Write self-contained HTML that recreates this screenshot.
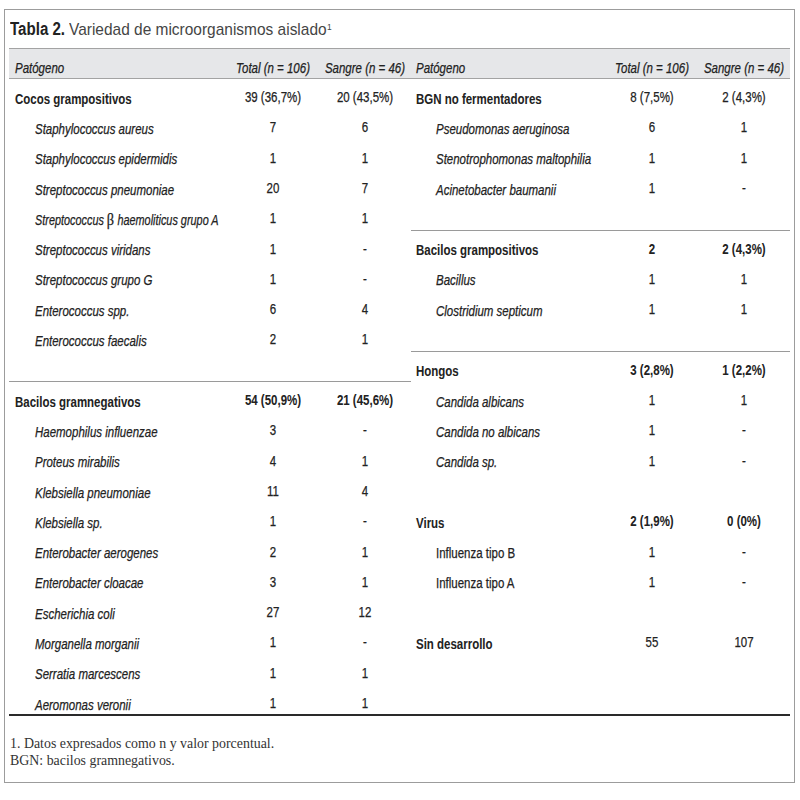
<!DOCTYPE html>
<html><head><meta charset="utf-8"><style>
html,body{margin:0;padding:0;background:#fff;}
body{width:800px;height:800px;position:relative;overflow:hidden;font-family:"Liberation Sans",sans-serif;color:#222;}
.box{position:absolute;left:4px;top:9px;width:789px;height:772px;border:1px solid #9c9c9c;}
.band{position:absolute;left:9px;top:48px;width:781px;height:29px;background:#e6e7e9;border-top:1px solid #a3a3a3;border-bottom:1px solid #a3a3a3;}
.sep{position:absolute;height:1px;background:#9a9a9a;}
.thick{position:absolute;left:9px;top:714px;width:781px;height:2px;background:#2a2a2a;}
.t{position:absolute;white-space:nowrap;font-size:14px;line-height:20px;-webkit-text-stroke:0.25px #222;}
.t.l{transform:scaleX(0.82);transform-origin:0 0;}
.t.c{width:300px;text-align:center;transform:scaleX(0.82);transform-origin:150px 0;}
.i{font-style:italic;}
.b{font-weight:bold;-webkit-text-stroke:0.05px #222;}
.beta{font-family:"Liberation Serif",serif;font-style:normal;font-size:16px;display:inline-block;transform:scaleX(1.15);margin:0 1px 0 0.5px;}
.title{position:absolute;left:10px;top:15.6px;white-space:nowrap;line-height:26px;}
.tb{font-weight:bold;font-size:18px;display:inline-block;transform:scaleX(0.838);transform-origin:0 0;}
.tv{position:absolute;left:69px;top:18.1px;font-size:16.6px;line-height:24px;white-space:nowrap;transform:scaleX(0.932);transform-origin:0 0;color:#454545;}
.fn{position:absolute;left:10px;font-family:"Liberation Serif",serif;font-size:14px;line-height:18px;white-space:nowrap;color:#333;transform:scaleX(0.992);transform-origin:0 0;}
</style></head><body>
<div class="box"></div>
<div class="band"></div>
<div class="sep" style="left:9px;top:381px;width:402px"></div>
<div class="sep" style="left:411px;top:230px;width:379px"></div>
<div class="sep" style="left:411px;top:351px;width:379px"></div>
<div class="thick"></div>
<div class="title"><span class="tb">Tabla 2.</span></div>
<div class="tv">Variedad de microorganismos aislado<sup style="font-size:9px;vertical-align:5px;line-height:0;margin-left:0.5px">1</sup></div>
<div class='t b l' style='left:15px;top:88.60px'>Cocos grampositivos</div>
<div class='t n c' style='left:123px;top:87.00px'>39 (36,7%)</div>
<div class='t n c' style='left:215px;top:87.00px'>20 (43,5%)</div>
<div class='t i l' style='left:35px;top:118.90px'>Staphylococcus aureus</div>
<div class='t n c' style='left:123px;top:117.30px'>7</div>
<div class='t n c' style='left:215px;top:117.30px'>6</div>
<div class='t i l' style='left:35px;top:149.20px'>Staphylococcus epidermidis</div>
<div class='t n c' style='left:123px;top:147.60px'>1</div>
<div class='t n c' style='left:215px;top:147.60px'>1</div>
<div class='t i l' style='left:35px;top:179.50px'>Streptococcus pneumoniae</div>
<div class='t n c' style='left:123px;top:177.90px'>20</div>
<div class='t n c' style='left:215px;top:177.90px'>7</div>
<div class='t i l' style='left:35px;top:209.80px'><span style='display:inline-block;transform:scaleX(0.947);transform-origin:0 0'>Streptococcus <span class='beta'>β</span> haemoliticus grupo A</span></div>
<div class='t n c' style='left:123px;top:208.20px'>1</div>
<div class='t n c' style='left:215px;top:208.20px'>1</div>
<div class='t i l' style='left:35px;top:240.10px'>Streptococcus viridans</div>
<div class='t n c' style='left:123px;top:238.50px'>1</div>
<div class='t n c' style='left:215px;top:238.50px'>-</div>
<div class='t i l' style='left:35px;top:270.40px'>Streptococcus grupo G</div>
<div class='t n c' style='left:123px;top:268.80px'>1</div>
<div class='t n c' style='left:215px;top:268.80px'>-</div>
<div class='t i l' style='left:35px;top:300.70px'>Enterococcus spp.</div>
<div class='t n c' style='left:123px;top:299.10px'>6</div>
<div class='t n c' style='left:215px;top:299.10px'>4</div>
<div class='t i l' style='left:35px;top:331.00px'>Enterococcus faecalis</div>
<div class='t n c' style='left:123px;top:329.40px'>2</div>
<div class='t n c' style='left:215px;top:329.40px'>1</div>
<div class='t b l' style='left:15px;top:391.60px'>Bacilos gramnegativos</div>
<div class='t b c' style='left:123px;top:390.00px'>54 (50,9%)</div>
<div class='t b c' style='left:215px;top:390.00px'>21 (45,6%)</div>
<div class='t i l' style='left:35px;top:421.90px'>Haemophilus influenzae</div>
<div class='t n c' style='left:123px;top:420.30px'>3</div>
<div class='t n c' style='left:215px;top:420.30px'>-</div>
<div class='t i l' style='left:35px;top:452.20px'>Proteus mirabilis</div>
<div class='t n c' style='left:123px;top:450.60px'>4</div>
<div class='t n c' style='left:215px;top:450.60px'>1</div>
<div class='t i l' style='left:35px;top:482.50px'>Klebsiella pneumoniae</div>
<div class='t n c' style='left:123px;top:480.90px'>11</div>
<div class='t n c' style='left:215px;top:480.90px'>4</div>
<div class='t i l' style='left:35px;top:512.80px'>Klebsiella sp.</div>
<div class='t n c' style='left:123px;top:511.20px'>1</div>
<div class='t n c' style='left:215px;top:511.20px'>-</div>
<div class='t i l' style='left:35px;top:543.10px'>Enterobacter aerogenes</div>
<div class='t n c' style='left:123px;top:541.50px'>2</div>
<div class='t n c' style='left:215px;top:541.50px'>1</div>
<div class='t i l' style='left:35px;top:573.40px'>Enterobacter cloacae</div>
<div class='t n c' style='left:123px;top:571.80px'>3</div>
<div class='t n c' style='left:215px;top:571.80px'>1</div>
<div class='t i l' style='left:35px;top:603.70px'>Escherichia coli</div>
<div class='t n c' style='left:123px;top:602.10px'>27</div>
<div class='t n c' style='left:215px;top:602.10px'>12</div>
<div class='t i l' style='left:35px;top:634.00px'>Morganella morganii</div>
<div class='t n c' style='left:123px;top:632.40px'>1</div>
<div class='t n c' style='left:215px;top:632.40px'>-</div>
<div class='t i l' style='left:35px;top:664.30px'>Serratia marcescens</div>
<div class='t n c' style='left:123px;top:662.70px'>1</div>
<div class='t n c' style='left:215px;top:662.70px'>1</div>
<div class='t i l' style='left:35px;top:694.60px'>Aeromonas veronii</div>
<div class='t n c' style='left:123px;top:693.00px'>1</div>
<div class='t n c' style='left:215px;top:693.00px'>1</div>
<div class='t b l' style='left:416px;top:88.60px'>BGN no fermentadores</div>
<div class='t n c' style='left:502px;top:87.00px'>8 (7,5%)</div>
<div class='t n c' style='left:594px;top:87.00px'>2 (4,3%)</div>
<div class='t i l' style='left:436px;top:118.90px'>Pseudomonas aeruginosa</div>
<div class='t n c' style='left:502px;top:117.30px'>6</div>
<div class='t n c' style='left:594px;top:117.30px'>1</div>
<div class='t i l' style='left:436px;top:149.20px'>Stenotrophomonas maltophilia</div>
<div class='t n c' style='left:502px;top:147.60px'>1</div>
<div class='t n c' style='left:594px;top:147.60px'>1</div>
<div class='t i l' style='left:436px;top:179.50px'>Acinetobacter baumanii</div>
<div class='t n c' style='left:502px;top:177.90px'>1</div>
<div class='t n c' style='left:594px;top:177.90px'>-</div>
<div class='t b l' style='left:416px;top:240.10px'>Bacilos grampositivos</div>
<div class='t b c' style='left:502px;top:238.50px'>2</div>
<div class='t b c' style='left:594px;top:238.50px'>2 (4,3%)</div>
<div class='t i l' style='left:436px;top:270.40px'>Bacillus</div>
<div class='t n c' style='left:502px;top:268.80px'>1</div>
<div class='t n c' style='left:594px;top:268.80px'>1</div>
<div class='t i l' style='left:436px;top:300.70px'>Clostridium septicum</div>
<div class='t n c' style='left:502px;top:299.10px'>1</div>
<div class='t n c' style='left:594px;top:299.10px'>1</div>
<div class='t b l' style='left:416px;top:361.30px'>Hongos</div>
<div class='t b c' style='left:502px;top:359.70px'>3 (2,8%)</div>
<div class='t b c' style='left:594px;top:359.70px'>1 (2,2%)</div>
<div class='t i l' style='left:436px;top:391.60px'>Candida albicans</div>
<div class='t n c' style='left:502px;top:390.00px'>1</div>
<div class='t n c' style='left:594px;top:390.00px'>1</div>
<div class='t i l' style='left:436px;top:421.90px'>Candida no albicans</div>
<div class='t n c' style='left:502px;top:420.30px'>1</div>
<div class='t n c' style='left:594px;top:420.30px'>-</div>
<div class='t i l' style='left:436px;top:452.20px'>Candida sp.</div>
<div class='t n c' style='left:502px;top:450.60px'>1</div>
<div class='t n c' style='left:594px;top:450.60px'>-</div>
<div class='t b l' style='left:416px;top:512.80px'>Virus</div>
<div class='t b c' style='left:502px;top:511.20px'>2 (1,9%)</div>
<div class='t b c' style='left:594px;top:511.20px'>0 (0%)</div>
<div class='t n l' style='left:436px;top:543.10px'>Influenza tipo B</div>
<div class='t n c' style='left:502px;top:541.50px'>1</div>
<div class='t n c' style='left:594px;top:541.50px'>-</div>
<div class='t n l' style='left:436px;top:573.40px'>Influenza tipo A</div>
<div class='t n c' style='left:502px;top:571.80px'>1</div>
<div class='t n c' style='left:594px;top:571.80px'>-</div>
<div class='t b l' style='left:416px;top:634.00px'>Sin desarrollo</div>
<div class='t n c' style='left:502px;top:632.40px'>55</div>
<div class='t n c' style='left:594px;top:632.40px'>107</div>
<div class='t i l' style='left:15px;top:57.50px'>Patógeno</div>
<div class='t i c' style='left:123px;top:57.50px'>Total (n = 106)</div>
<div class='t i c' style='left:215px;top:57.50px'>Sangre (n = 46)</div>
<div class='t i l' style='left:416px;top:57.50px'>Patógeno</div>
<div class='t i c' style='left:502px;top:57.50px'>Total (n = 106)</div>
<div class='t i c' style='left:594px;top:57.50px'>Sangre (n = 46)</div>
<div class="fn" style="top:734.8px">1. Datos expresados como n y valor porcentual.</div>
<div class="fn" style="top:752.3px">BGN: bacilos gramnegativos.</div>
</body></html>
